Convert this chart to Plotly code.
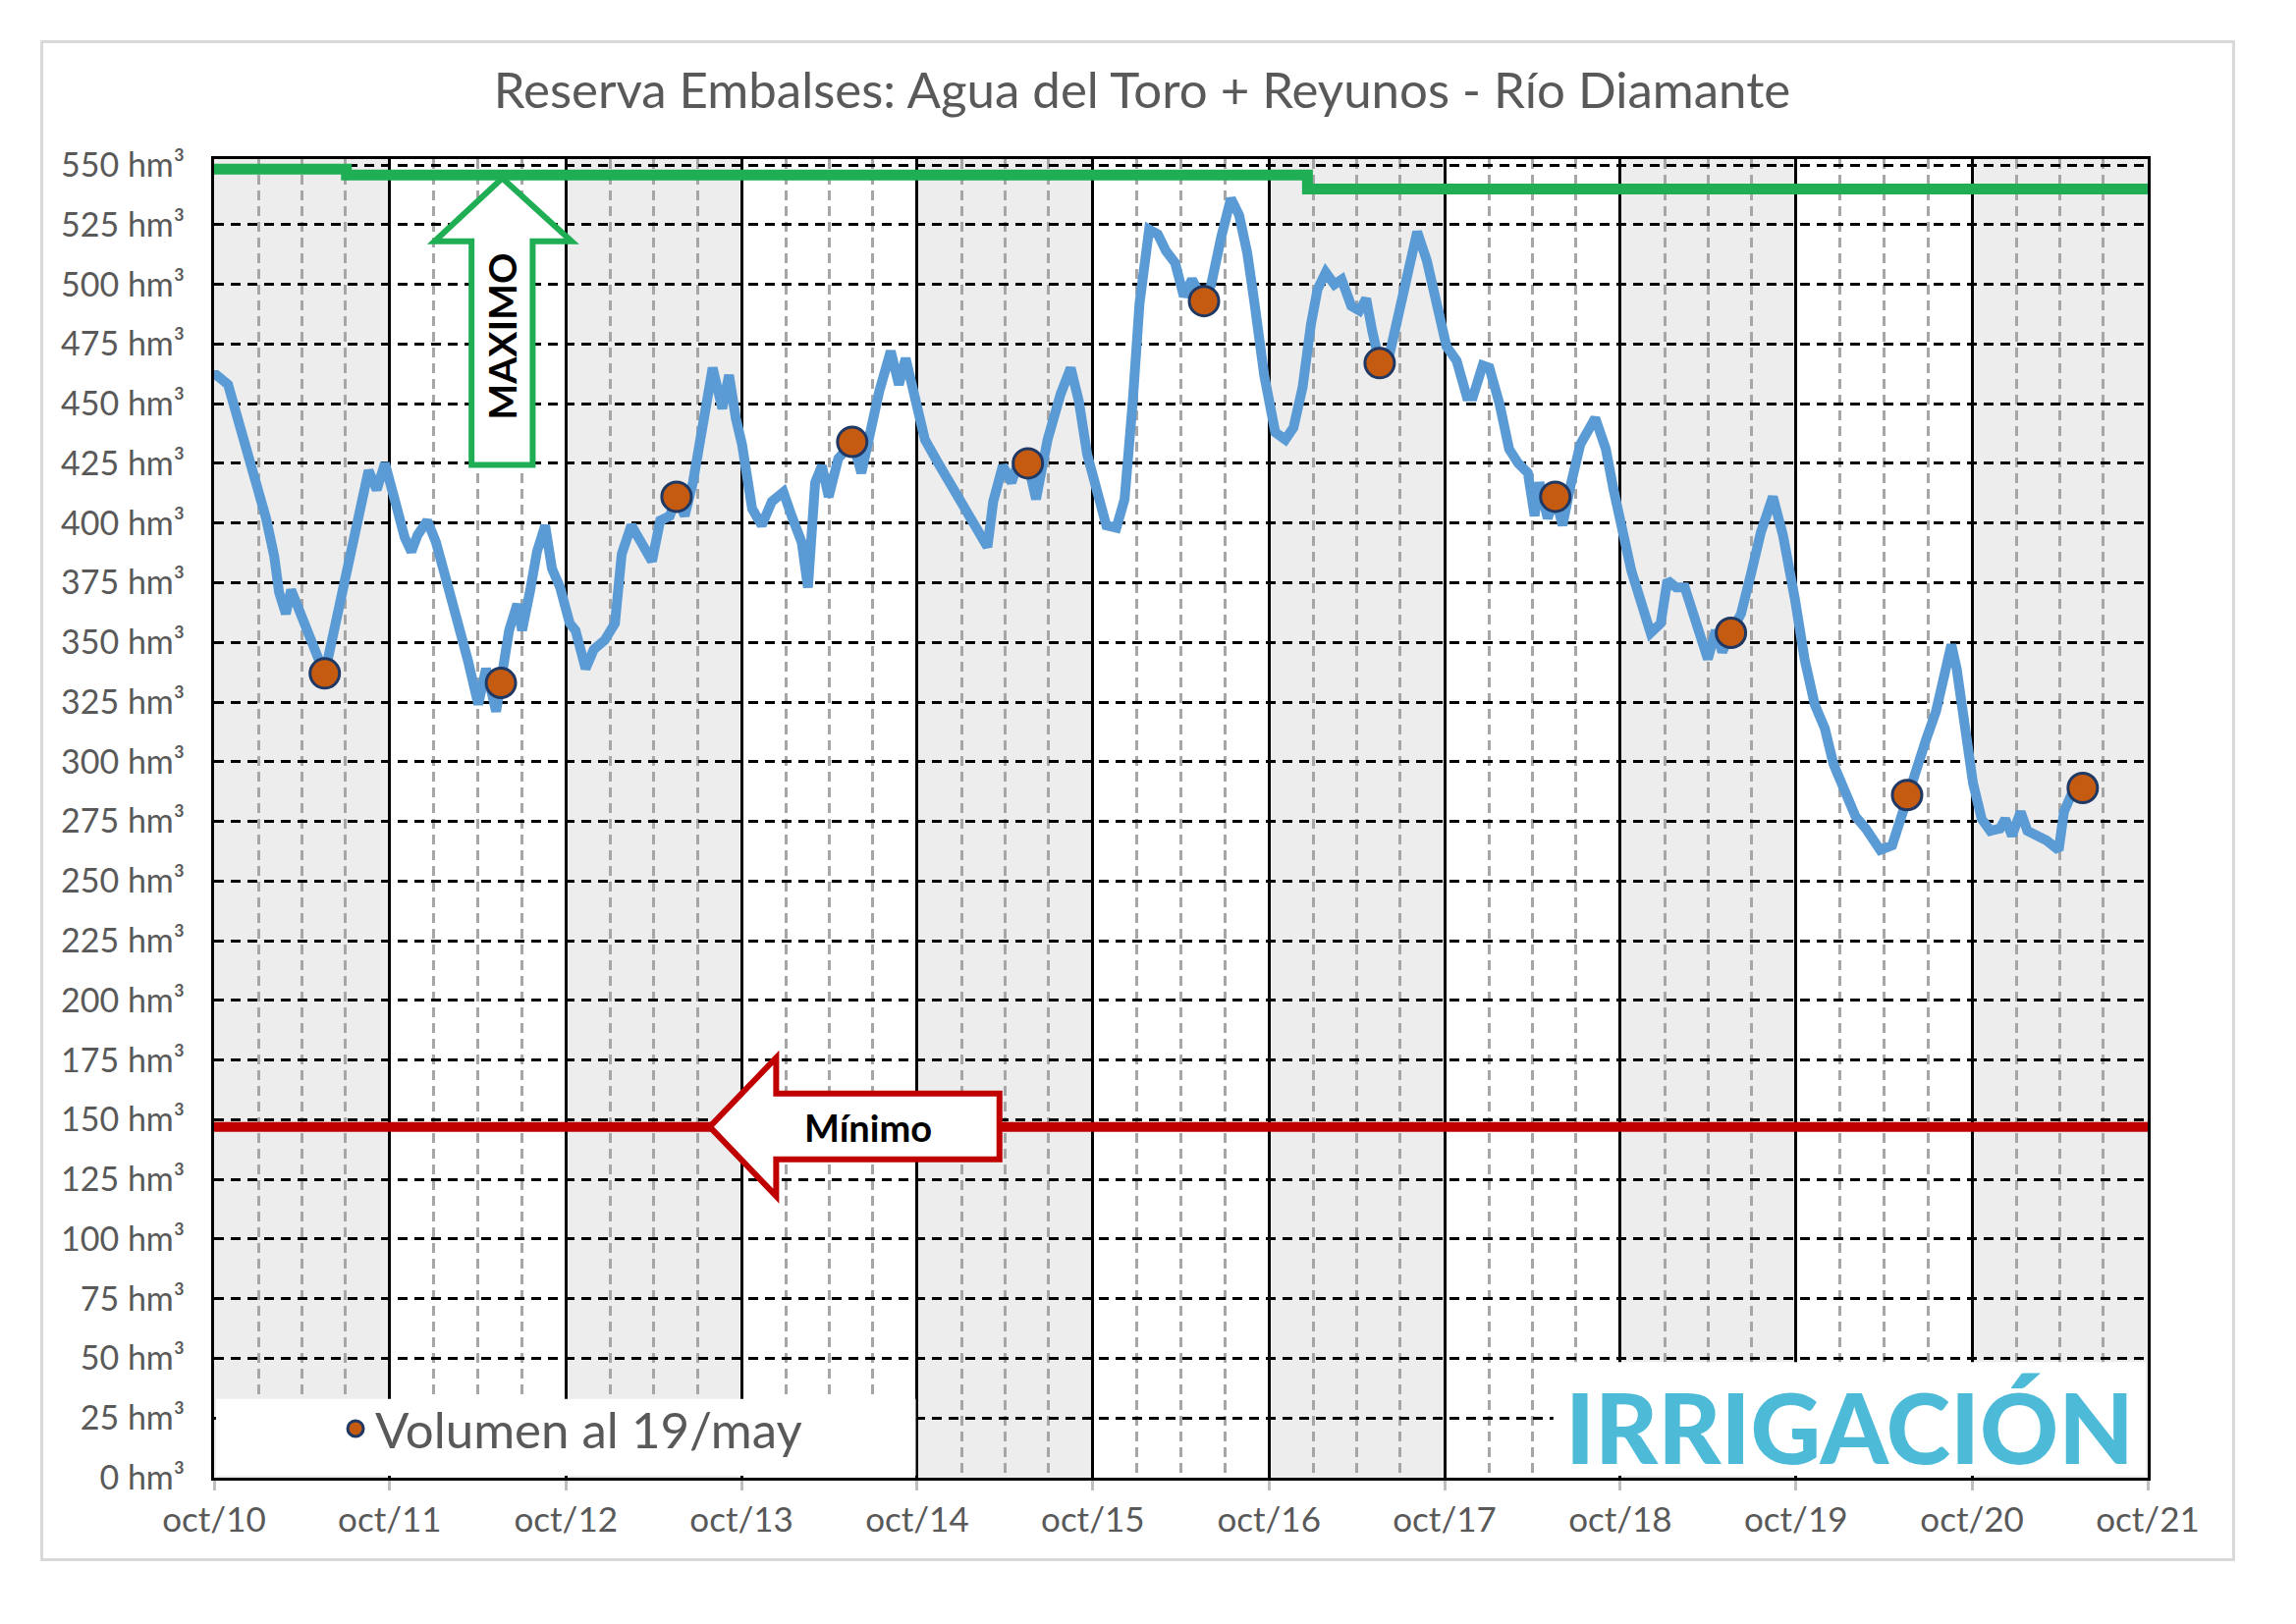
import plotly.graph_objects as go

# daily-ish reservoir volume (hm3)
fechas = [
    "2010-10-01", "2010-10-06", "2010-10-30", "2010-11-09", "2010-11-30", "2010-12-13", "2010-12-31",
    "2011-01-17", "2011-02-03", "2011-02-13", "2011-02-27", "2011-03-10", "2011-03-24", "2011-04-14",
    "2011-05-12", "2011-05-19", "2011-06-14", "2011-07-11", "2011-08-01", "2011-08-18", "2011-09-04",
    "2011-09-21", "2011-10-15", "2011-11-01", "2011-11-15", "2011-11-28", "2011-12-18", "2012-01-05",
    "2012-02-01", "2012-02-22", "2012-03-12", "2012-04-02", "2012-04-18", "2012-05-09", "2012-05-19",
    "2012-06-05", "2012-06-22", "2012-07-02", "2012-07-19", "2012-08-02", "2012-08-19", "2012-09-02",
    "2012-09-19", "2012-10-09", "2012-10-21", "2012-11-11", "2012-11-28", "2012-12-21", "2013-01-11",
    "2013-01-25", "2013-02-14", "2013-03-05", "2013-03-29", "2013-04-15", "2013-05-05", "2013-05-19",
    "2013-06-05", "2013-06-22", "2013-07-12", "2013-08-02", "2013-08-22", "2013-09-05", "2013-09-19",
    "2013-10-02", "2013-10-23", "2013-11-12", "2013-12-03", "2013-12-27", "2014-01-13", "2014-02-03",
    "2014-02-16", "2014-03-03", "2014-03-17", "2014-03-31", "2014-04-20", "2014-05-20", "2014-06-07",
    "2014-06-24", "2014-07-14", "2014-08-07", "2014-08-24", "2014-09-07", "2014-10-01", "2014-10-17",
    "2014-11-14", "2014-12-07", "2014-12-21", "2015-01-11", "2015-02-01", "2015-02-24", "2015-03-08",
    "2015-03-28", "2015-04-15", "2015-05-05", "2015-05-19", "2015-06-05", "2015-06-29", "2015-07-26",
    "2015-08-16", "2015-09-02", "2015-09-19", "2015-10-09", "2015-10-29", "2015-11-19", "2015-12-06",
    "2015-12-23", "2016-01-06", "2016-01-26", "2016-02-13", "2016-03-01", "2016-03-20", "2016-04-07",
    "2016-04-24", "2016-05-19", "2016-06-03", "2016-06-24", "2016-07-14", "2016-07-31", "2016-08-17",
    "2016-09-01", "2016-09-21", "2016-10-14", "2016-11-04", "2016-11-21", "2016-12-10", "2016-12-27",
    "2017-01-10", "2017-01-27", "2017-02-14", "2017-03-01", "2017-03-21", "2017-04-07", "2017-04-21",
    "2017-05-04", "2017-05-19", "2017-06-01", "2017-06-18", "2017-07-15", "2017-08-05", "2017-08-25",
    "2017-09-15", "2017-10-05", "2017-10-26", "2017-11-16", "2017-11-29", "2017-12-19", "2018-01-02",
    "2018-01-23", "2018-02-12", "2018-03-03", "2018-03-23", "2018-04-06", "2018-04-16", "2018-05-03",
    "2018-05-19", "2018-06-03", "2018-06-20", "2018-07-10", "2018-08-10", "2018-09-01", "2018-09-17",
    "2018-10-07", "2018-10-24", "2018-12-03", "2018-12-24", "2019-01-07", "2019-01-25", "2019-02-12",
    "2019-03-03", "2019-03-17", "2019-04-01", "2019-04-17", "2019-05-01", "2019-05-19", "2019-06-09",
    "2019-06-30", "2019-07-20", "2019-08-14", "2019-09-04", "2019-09-29", "2019-10-19", "2019-11-09",
    "2019-11-30", "2019-12-18", "2020-01-08", "2020-02-02", "2020-02-23", "2020-03-07", "2020-03-24",
    "2020-04-18", "2020-05-19", "2020-06-06", "2020-06-27", "2020-07-18", "2020-08-05", "2020-08-19",
    "2020-08-30", "2020-09-16", "2020-10-03", "2020-10-21", "2020-11-08", "2020-11-28", "2020-12-09",
    "2020-12-23", "2021-01-10", "2021-01-24", "2021-02-14", "2021-03-05", "2021-03-30", "2021-04-10",
    "2021-04-27", "2021-05-07", "2021-05-19",
]
volumen = [
    462, 462, 458, 451, 437, 426, 413,
    402, 386, 371, 362, 372, 365, 353,
    340, 337, 361, 383, 402, 422, 414,
    425, 407, 394, 388, 395, 401, 392,
    372, 358, 342, 324, 339, 321, 333,
    355, 366, 355, 372, 388, 399, 381,
    373, 358, 355, 339, 347, 351, 358,
    387, 399, 392, 384, 401, 403, 411,
    403, 417, 442, 465, 448, 462, 444,
    433, 406, 399, 409, 413, 403, 392,
    373, 417, 424, 411, 427, 434, 421,
    439, 455, 472, 458, 469, 446, 435,
    425, 417, 412, 405, 399, 390, 409,
    424, 417, 429, 425, 410, 435, 454,
    465, 451, 429, 412, 399, 398, 410,
    451, 492, 523, 521, 514, 509, 495,
    502, 493, 500, 520, 536, 529, 513,
    492, 462, 438, 435, 440, 457, 483,
    498, 505, 500, 502, 491, 489, 494,
    480, 467, 464, 480, 507, 522, 510,
    491, 474, 468, 453, 453, 466, 465,
    450, 431, 425, 421, 403, 417, 402,
    411, 399, 416, 433, 444, 431, 414,
    397, 380, 354, 358, 376, 373, 373,
    362, 351, 343, 355, 346, 354, 362,
    379, 396, 411, 395, 368, 343, 324,
    314, 299, 289, 277, 272, 268, 263,
    265, 286, 298, 309, 321, 338, 349,
    339, 316, 291, 276, 271, 272, 276,
    269, 279, 271, 269, 267, 263, 279,
    287, 293, 289,
]

# volume on 19/may of each year
anios_mayo = [2011, 2012, 2013, 2014, 2015, 2016, 2017, 2018, 2019, 2020, 2021]
vol_mayo = [337, 333, 411, 434, 425, 493, 467, 411, 354, 286, 289]

# maximum (operational) level, steps
max_fechas = ["2010-10-01", "2011-07-03", "2016-12-20", "2021-10-01"]
max_vol = [548.3, 545.8, 540, 540]

min_fechas = ["2010-10-01", "2021-10-01"]
min_vol = [147, 147]

anios = list(range(2010, 2022))
tick_fechas = [f"{a}-10-01" for a in anios]
tick_textos = [f"oct/{a % 100:02d}" for a in anios]
y_vals = list(range(0, 551, 25))
y_textos = [f"{v} hm³" for v in y_vals]

GRIS = "#595959"
FONT = "Lato"

fig = go.Figure()

fig.add_trace(go.Scatter(x=min_fechas, y=min_vol, mode="lines",
                         line=dict(color="#c00000", width=10), showlegend=False,
                         hoverinfo="skip"))
fig.add_trace(go.Scatter(x=max_fechas, y=max_vol, mode="lines", line_shape="hv",
                         line=dict(color="#1fae54", width=11), showlegend=False,
                         hoverinfo="skip"))
fig.add_trace(go.Scatter(x=fechas, y=volumen, mode="lines",
                         line=dict(color="#5b9bd5", width=10), showlegend=False))
fig.add_trace(go.Scatter(x=[f"{a}-05-19" for a in anios_mayo], y=vol_mayo, mode="markers",
                         name="Volumen al 19/may",
                         marker=dict(color="#c55a11", size=30,
                                     line=dict(color="#1f3864", width=3))))

shapes = []
# alternating grey year bands
for a in range(2010, 2021, 2):
    shapes.append(dict(type="rect", xref="x", yref="paper", x0=f"{a}-10-01", x1=f"{a + 1}-10-01",
                       y0=0, y1=1, fillcolor="#ededed", line_width=0, layer="below"))
# white boxes behind legend and logo
shapes.append(dict(type="rect", xref="x", yref="y", x0="2010-10-05", x1="2014-09-28",
                   y0=0.8, y1=33, fillcolor="white", line_width=0, layer="between"))
shapes.append(dict(type="rect", xref="x", yref="y", x0="2018-05-15", x1="2021-09-27",
                   y0=0.8, y1=48.4, fillcolor="white", line_width=0, layer="between"))
# MAXIMO arrow
shapes.append(dict(type="path", xref="x", yref="y", layer="above",
                   path=("M 2012-05-22,544.5 L 2012-10-13,518 L 2012-07-24,518 L 2012-07-24,424.3 "
                         "L 2012-03-19,424.3 L 2012-03-19,518 L 2012-01-02,518 Z"),
                   fillcolor="white", line=dict(color="#1fae54", width=6)))
# Minimo arrow
shapes.append(dict(type="path", xref="x", yref="y", layer="above",
                   path=("M 2013-07-27,147 L 2013-12-12,176 L 2013-12-12,161 L 2015-03-21,161 "
                         "L 2015-03-21,133.4 L 2013-12-12,133.4 L 2013-12-12,118 Z"),
                   fillcolor="white", line=dict(color="#c00000", width=6)))
# outer frame
shapes.append(dict(type="rect", xref="paper", yref="paper", x0=-0.0891, x1=1.0444,
                   y0=-0.0622, y1=1.089, line=dict(color="#d9d9d9", width=3),
                   fillcolor="rgba(0,0,0,0)", layer="below"))

annotations = [
    dict(x="2012-05-22", y=478, xref="x", yref="y", text="MAXIMO", textangle=-90,
         showarrow=False, font=dict(family=FONT, size=39, color="black", weight="bold")),
    dict(x="2014-06-22", y=147, xref="x", yref="y", text="Mínimo",
         showarrow=False, font=dict(family=FONT, size=38, color="black", weight="bold")),
    dict(x=0.846, y=0.039, xref="paper", yref="paper", text="IRRIGACIÓN",
         xanchor="center", yanchor="middle", showarrow=False,
         font=dict(family=FONT, size=99, color="#4dbbd8", weight=900)),
]

fig.update_layout(
    width=2338, height=1654,
    margin=dict(l=210, r=159, t=154, b=157),
    paper_bgcolor="white", plot_bgcolor="white",
    font=dict(family=FONT, color=GRIS),
    title=dict(text="Reserva Embalses: Agua del Toro + Reyunos - Río Diamante",
               x=0.494, xanchor="center", y=1 - 84.5 / 1654, yanchor="middle",
               font=dict(family=FONT, size=51, color=GRIS)),
    showlegend=True,
    legend=dict(x=0.063, y=0.037, xanchor="left", yanchor="middle",
                bgcolor="rgba(0,0,0,0)", font=dict(family=FONT, size=51, color=GRIS),
                itemsizing="trace"),
    shapes=shapes,
    annotations=annotations,
)

fig.update_xaxes(
    type="date", range=["2010-10-01", "2021-10-01"],
    tickmode="array", tickvals=tick_fechas, ticktext=tick_textos,
    tickfont=dict(family=FONT, size=35, color=GRIS),
    ticks="outside", ticklen=10, tickwidth=3, tickcolor="#bfbfbf",
    ticklabelstandoff=0,
    showgrid=True, gridcolor="black", gridwidth=3,
    minor=dict(tickmode="linear", tick0="2010-10-01", dtick="M3", showgrid=True,
               gridcolor="#a6a6a6", gridwidth=3, griddash="10px,6px"),
    showline=True, linecolor="black", linewidth=3, mirror=True,
    zeroline=False,
)
fig.update_yaxes(
    range=[0, 552.5], tickmode="array", tickvals=y_vals, ticktext=y_textos,
    tickfont=dict(family=FONT, size=34, color=GRIS),
    ticklabelstandoff=20,
    showgrid=True, gridcolor="black", gridwidth=3, griddash="10px,7px",
    showline=True, linecolor="black", linewidth=3, mirror=True,
    zeroline=False,
)

fig.write_html("out.html")
